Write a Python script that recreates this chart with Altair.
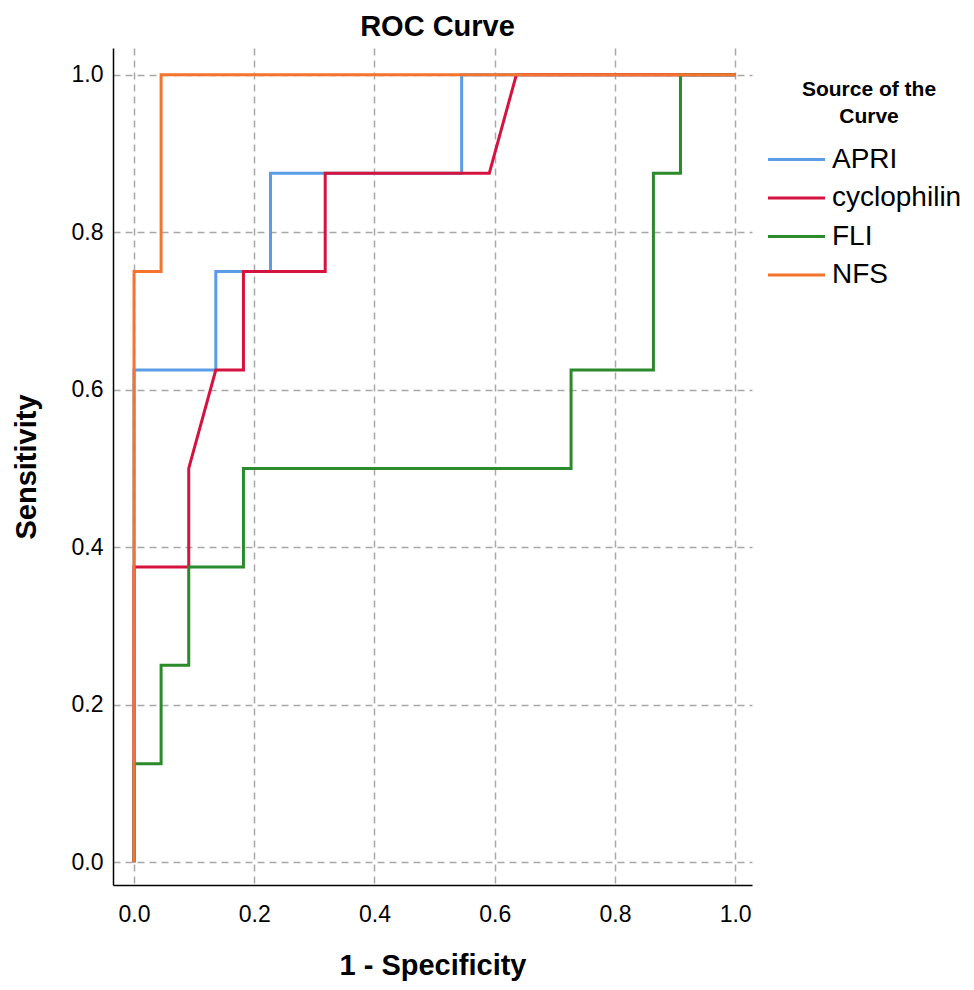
import altair as alt
import pandas as pd

series_names = ["APRI", "cyclophilin", "FLI", "NFS"]
series_colors = ["#5a9de6", "#d4133f", "#2b8a2b", "#f4732d"]

apri_x = [0.0, 0.0, 0.136, 0.136, 0.227, 0.227, 0.545, 0.545, 1.0]
apri_y = [0.0, 0.625, 0.625, 0.75, 0.75, 0.875, 0.875, 1.0, 1.0]

cyclo_x = [0.0, 0.0, 0.091, 0.091, 0.136, 0.182, 0.182, 0.318, 0.318, 0.591, 0.636, 1.0]
cyclo_y = [0.0, 0.375, 0.375, 0.5, 0.625, 0.625, 0.75, 0.75, 0.875, 0.875, 1.0, 1.0]

fli_x = [0.0, 0.0, 0.045, 0.045, 0.091, 0.091, 0.182, 0.182, 0.727, 0.727, 0.864, 0.864, 0.909, 0.909, 1.0]
fli_y = [0.0, 0.125, 0.125, 0.25, 0.25, 0.375, 0.375, 0.5, 0.5, 0.625, 0.625, 0.875, 0.875, 1.0, 1.0]

nfs_x = [0.0, 0.0, 0.045, 0.045, 1.0]
nfs_y = [0.0, 0.75, 0.75, 1.0, 1.0]

tick_values = [0.0, 0.2, 0.4, 0.6, 0.8, 1.0]

rows = []
for name, xs, ys in [("APRI", apri_x, apri_y), ("cyclophilin", cyclo_x, cyclo_y),
                     ("FLI", fli_x, fli_y), ("NFS", nfs_x, nfs_y)]:
    for i, (a, b) in enumerate(zip(xs, ys)):
        rows.append({"series": name, "fpr": a, "tpr": b, "idx": i})
df = pd.DataFrame(rows)

FONT = "Liberation Sans"

chart = alt.Chart(df).mark_line(strokeWidth=3, strokeCap="butt", strokeJoin="miter").encode(
    x=alt.X("fpr:Q",
            scale=alt.Scale(domain=[-0.035, 1.028], nice=False, zero=False),
            axis=alt.Axis(title="1 - Specificity", values=tick_values, format=".1f",
                          labelPadding=18, titlePadding=25)),
    y=alt.Y("tpr:Q",
            scale=alt.Scale(domain=[-0.029, 1.034], nice=False, zero=False),
            axis=alt.Axis(title="Sensitivity", values=tick_values, format=".1f",
                          labelPadding=10, titlePadding=30)),
    color=alt.Color("series:N",
                    scale=alt.Scale(domain=series_names, range=series_colors),
                    legend=alt.Legend(title=["Source of the", "Curve"], orient="none",
                                      legendX=663, legendY=31,
                                      symbolType="M-1.5,0L1.5,0", symbolSize=1444,
                                      symbolStrokeWidth=3, labelFontSize=28,
                                      labelFont=FONT, labelColor="black",
                                      titleFont=FONT, titleFontSize=21,
                                      titleFontWeight="bold", titleColor="black",
                                      titleAlign="center", titleAnchor="middle",
                                      titleLineHeight=27, titlePadding=12,
                                      labelOffset=15, rowPadding=3.5)),
    order="idx:Q",
).properties(
    width=639, height=837,
    title=alt.TitleParams("ROC Curve", font=FONT, fontSize=29, fontWeight="bold",
                          color="black", offset=6, dx=5),
    padding={"left": 105, "top": 40, "right": 214, "bottom": 97},
    autosize=alt.AutoSizeParams(type="none"),
).configure_view(stroke=None).configure_axis(
    domainColor="black", domainWidth=1.5, ticks=False, tickSize=0,
    grid=True, gridColor="#a8a8a8", gridDash=[7, 5], gridWidth=1.5,
    labelFont=FONT, labelFontSize=23, labelColor="black",
    titleFont=FONT, titleFontSize=29, titleFontWeight="bold", titleColor="black",
)

chart.save("out.html", embed_options={"renderer": "svg", "actions": False})
